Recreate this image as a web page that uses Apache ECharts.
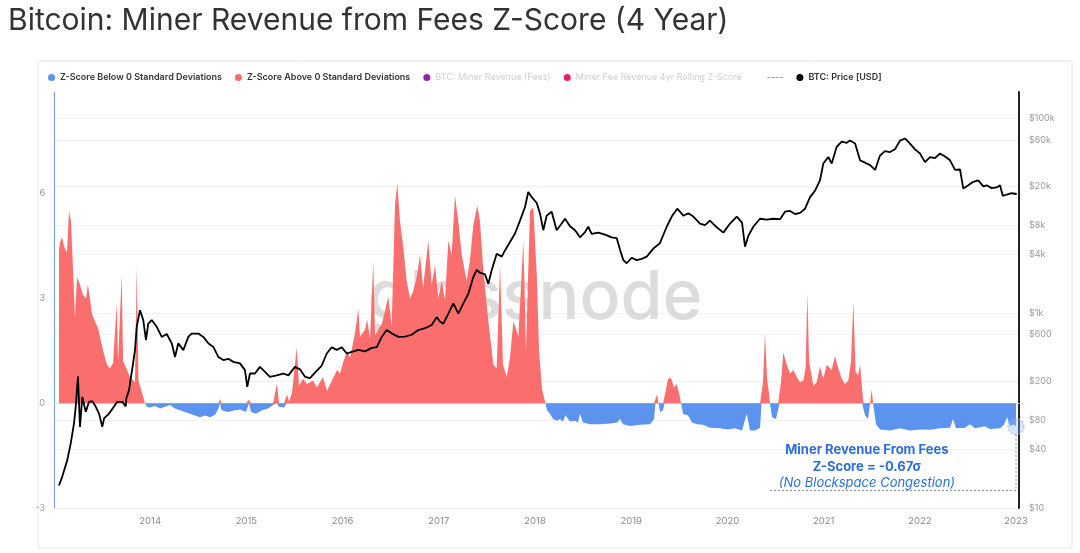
<!DOCTYPE html>
<html>
<head>
<meta charset="utf-8">
<script src="https://cdn.jsdelivr.net/npm/echarts@6/dist/echarts.min.js"></script>
<style>
html,body{margin:0;padding:0;background:#fff;}
#main{width:1080px;height:553px;}
</style>
</head>
<body>
<div id="main"></div>
<script>
// ---- Data (decimal year, value) ----
const zYears = [2013.052,2013.062,2013.083,2013.104,2013.135,2013.156,2013.177,2013.198,2013.218,2013.239,2013.270,2013.301,2013.333,2013.353,2013.395,2013.426,2013.457,2013.478,2013.510,2013.551,2013.582,2013.614,2013.652,2013.666,2013.704,2013.718,2013.759,2013.790,2013.842,2013.860,2013.878,2013.915,2013.946,2013.967,2013.998,2014.050,2014.102,2014.154,2014.206,2014.258,2014.310,2014.362,2014.414,2014.466,2014.518,2014.570,2014.622,2014.674,2014.710,2014.726,2014.741,2014.809,2014.882,2014.933,2014.996,2015.027,2015.048,2015.100,2015.162,2015.225,2015.277,2015.318,2015.339,2015.391,2015.422,2015.443,2015.474,2015.523,2015.547,2015.588,2015.630,2015.692,2015.734,2015.796,2015.838,2015.890,2015.942,2015.973,2016.004,2016.046,2016.077,2016.129,2016.163,2016.181,2016.233,2016.254,2016.285,2016.319,2016.337,2016.371,2016.410,2016.441,2016.475,2016.510,2016.545,2016.569,2016.597,2016.631,2016.666,2016.701,2016.732,2016.770,2016.805,2016.836,2016.891,2016.926,2016.961,2016.995,2017.030,2017.064,2017.099,2017.134,2017.168,2017.203,2017.238,2017.290,2017.324,2017.359,2017.400,2017.428,2017.463,2017.515,2017.567,2017.602,2017.636,2017.667,2017.706,2017.740,2017.775,2017.827,2017.879,2017.906,2017.948,2017.982,2018.018,2018.042,2018.073,2018.109,2018.125,2018.156,2018.187,2018.229,2018.260,2018.291,2018.317,2018.364,2018.416,2018.447,2018.468,2018.499,2018.572,2018.676,2018.780,2018.853,2018.884,2018.915,2018.988,2019.092,2019.196,2019.237,2019.253,2019.269,2019.284,2019.300,2019.331,2019.347,2019.362,2019.383,2019.414,2019.445,2019.471,2019.497,2019.518,2019.539,2019.591,2019.632,2019.684,2019.746,2019.819,2019.923,2020.006,2020.079,2020.152,2020.201,2020.235,2020.287,2020.339,2020.355,2020.370,2020.391,2020.412,2020.432,2020.443,2020.464,2020.505,2020.526,2020.542,2020.557,2020.581,2020.617,2020.651,2020.685,2020.720,2020.755,2020.789,2020.812,2020.831,2020.849,2020.893,2020.928,2020.962,2020.997,2021.032,2021.084,2021.118,2021.153,2021.188,2021.222,2021.257,2021.285,2021.309,2021.332,2021.358,2021.379,2021.400,2021.415,2021.431,2021.462,2021.483,2021.500,2021.514,2021.529,2021.545,2021.586,2021.690,2021.794,2021.898,2022.002,2022.106,2022.210,2022.314,2022.345,2022.376,2022.470,2022.522,2022.574,2022.678,2022.730,2022.834,2022.875,2022.906,2022.938,2022.979,2023.000];
const zValues = [4.4,4.6,4.75,4.5,4.3,5.5,5.2,3.8,2.45,3.6,3.4,3.1,3.0,3.4,2.55,2.35,2.15,1.9,1.5,1.1,1.0,1.15,2.85,1.2,3.7,1.2,0.95,0.75,0.6,3.9,0.65,0.3,0,-0.1,-0.12,-0.08,-0.15,-0.1,-0.05,-0.15,-0.2,-0.25,-0.3,-0.35,-0.4,-0.35,-0.4,-0.33,-0.15,0.12,-0.2,-0.25,-0.2,-0.18,-0.25,0.1,-0.25,-0.3,-0.2,-0.15,-0.05,0.57,-0.1,-0.12,0.25,0.05,0.3,1.6,0.5,0.7,0.55,0.65,0.45,0.75,0.35,0.65,0.95,0.85,1.15,1.5,1.3,2.0,2.7,1.9,2.1,2.4,1.85,4.05,1.95,2.1,2.3,2.65,3.05,2.2,5.7,6.3,5.2,4.45,3.5,3.0,3.2,3.6,4.25,3.3,4.65,3.4,3.95,3.0,3.5,2.95,4.65,4.25,5.95,5.2,4.25,3.5,4.1,5.1,5.65,5.2,3.8,2.35,1.1,1.0,3.95,1.1,0.75,1.3,2.35,1.9,4.65,1.5,5.5,5.6,3.7,1.5,0.4,0,-0.2,-0.3,-0.45,-0.5,-0.45,-0.52,-0.35,-0.52,-0.5,-0.55,-0.3,-0.55,-0.6,-0.6,-0.58,-0.55,-0.45,-0.6,-0.65,-0.62,-0.6,-0.45,0,0.25,0,-0.25,-0.2,0,0.4,0.7,0.72,0.45,0.55,0.3,0,-0.3,-0.35,-0.55,-0.6,-0.62,-0.7,-0.72,-0.75,-0.72,-0.78,-0.3,-0.78,-0.78,-0.7,0,0.6,2.0,0.7,0.3,0,-0.4,-0.45,-0.2,0,0.6,1.45,1.1,0.85,0.95,0.75,0.6,0.65,1.0,3.15,1.2,0.5,0.6,1.05,0.7,1.1,0.95,1.35,1.0,0.7,0.55,0.65,1.2,2.9,0.9,0.8,1.1,0.4,0,-0.35,-0.45,0,0.4,0,-0.3,-0.6,-0.75,-0.78,-0.72,-0.78,-0.75,-0.76,-0.72,-0.7,-0.45,-0.72,-0.7,-0.6,-0.72,-0.66,-0.74,-0.72,-0.62,-0.4,-0.65,-0.6,-0.67];

const priceYears = [2013.052,2013.086,2013.138,2013.174,2013.208,2013.226,2013.249,2013.270,2013.294,2013.330,2013.364,2013.398,2013.433,2013.468,2013.502,2013.520,2013.572,2013.624,2013.658,2013.710,2013.745,2013.752,2013.780,2013.790,2013.821,2013.842,2013.860,2013.894,2013.928,2013.956,2013.980,2014.016,2014.068,2014.120,2014.172,2014.224,2014.258,2014.292,2014.344,2014.396,2014.431,2014.500,2014.552,2014.604,2014.656,2014.708,2014.760,2014.812,2014.864,2014.933,2014.985,2015.009,2015.037,2015.089,2015.141,2015.193,2015.245,2015.315,2015.384,2015.436,2015.505,2015.557,2015.609,2015.661,2015.713,2015.783,2015.835,2015.887,2015.939,2015.991,2016.043,2016.095,2016.163,2016.233,2016.303,2016.355,2016.407,2016.458,2016.510,2016.579,2016.649,2016.718,2016.787,2016.857,2016.926,2016.978,2017.012,2017.047,2017.099,2017.151,2017.203,2017.255,2017.307,2017.359,2017.394,2017.428,2017.480,2017.515,2017.550,2017.602,2017.654,2017.688,2017.740,2017.792,2017.844,2017.896,2017.930,2017.966,2018.018,2018.052,2018.086,2018.121,2018.173,2018.225,2018.277,2018.312,2018.364,2018.416,2018.468,2018.520,2018.554,2018.589,2018.658,2018.728,2018.797,2018.849,2018.884,2018.918,2018.953,2019.005,2019.057,2019.109,2019.161,2019.230,2019.297,2019.369,2019.421,2019.479,2019.542,2019.594,2019.646,2019.715,2019.767,2019.819,2019.889,2019.958,2020.027,2020.097,2020.152,2020.183,2020.217,2020.269,2020.339,2020.408,2020.477,2020.547,2020.599,2020.651,2020.703,2020.755,2020.807,2020.859,2020.911,2020.962,2020.997,2021.049,2021.084,2021.136,2021.188,2021.240,2021.275,2021.327,2021.379,2021.431,2021.483,2021.535,2021.586,2021.638,2021.690,2021.742,2021.794,2021.846,2021.898,2021.950,2022.002,2022.054,2022.106,2022.158,2022.210,2022.262,2022.314,2022.366,2022.418,2022.452,2022.504,2022.556,2022.608,2022.660,2022.695,2022.747,2022.799,2022.834,2022.862,2022.903,2022.955,2023.007];
const priceValues = [17,21,31,46,74,110,224,68,138,97,123,125,110,93,68,83,93,110,123,123,110,133,162,190,300,420,724,1070,850,528,780,850,724,570,610,490,355,490,417,570,617,617,570,490,450,355,330,340,316,305,260,175,240,240,281,250,222,230,240,230,281,265,222,215,245,290,385,447,420,447,385,400,420,405,440,447,570,670,620,570,575,600,670,700,755,910,820,780,990,1260,990,1260,1580,2350,2770,2600,2500,2000,2770,4070,3800,4400,5380,6560,8900,12300,17500,15500,13500,10500,7100,10000,11000,7100,8300,9300,7800,7100,6000,6800,7700,6500,6700,6400,6000,5900,4460,3500,3250,3700,3500,3600,3800,4600,5200,7700,9800,11800,10000,10600,9800,8300,8000,8900,7600,6700,8300,9800,8500,4800,6200,7700,9300,9100,9300,9200,11000,11200,10400,10700,11800,15500,18100,23000,34300,40000,34300,51000,57500,56000,59000,55000,37000,35000,33000,29500,41400,46000,45000,48000,59000,62000,55000,48000,43500,35500,40000,39000,43500,40500,37000,29500,29800,19000,20500,22300,23000,20000,20500,19200,19500,20500,16000,16500,17000,16700];

const yearTicks = [2014,2015,2016,2017,2018,2019,2020,2021,2022,2023];
const zTicks = [-3,0,3,6];
const priceTicks = [10,40,80,200,600,1000,4000,8000,20000,60000,100000];

const legendNames = ['Z-Score Below 0 Standard Deviations','Z-Score Above 0 Standard Deviations','BTC: Miner Revenue (Fees)','Miner Fee Revenue 4yr Rolling Z-Score','----','BTC: Price [USD]'];
const annotationLines = ['Miner Revenue From Fees','Z-Score = -0.67σ','(No Blockspace Congestion)'];

// ---- Build series data ----
const negData = zYears.map((y,i)=>[y, Math.min(zValues[i],0)]);
const posData = zYears.map((y,i)=>[y, Math.max(zValues[i],0)]);
const priceData = priceYears.map((y,i)=>[y, priceValues[i]]);

const BLUE = '#5b93ef', RED = '#fa6e6e';
const FONT = 'Inter, "Noto Sans", sans-serif';

const chart = echarts.init(document.getElementById('main'), null, {renderer:'canvas'});

function priceFmt(v){ return v>=1000 ? '$'+(v/1000)+'k' : '$'+v; }

const option = {
  animation:false,
  backgroundColor:'#fff',
  textStyle:{fontFamily:FONT},
  title:{
    text:'Bitcoin: Miner Revenue from Fees Z-Score (4 Year)',
    left:3, top:1,
    textStyle:{fontFamily:FONT,fontSize:30,fontWeight:400,color:'#333'}
  },
  legend:{
    left:43, top:68, itemWidth:7, itemHeight:7, itemGap:13,
    selectedMode:false,
    textStyle:{fontFamily:FONT,fontSize:9,fontWeight:600,color:'#333'},
    data:[
      {name:legendNames[0], icon:'circle'},
      {name:legendNames[1], icon:'circle'},
      {name:legendNames[2], icon:'circle', textStyle:{color:'#cfcfcf',fontWeight:400}},
      {name:legendNames[3], icon:'circle', textStyle:{color:'#cfcfcf',fontWeight:400}},
      {name:legendNames[4], icon:'none', textStyle:{color:'#777',fontWeight:400}},
      {name:legendNames[5], icon:'circle'}
    ]
  },
  grid:{left:54, right:61, top:92, bottom:45},
  xAxis:{
    type:'value', min:2013, max:2023.031, interval:1,
    axisLine:{show:true,lineStyle:{color:'#d6e2f0',width:1}},
    axisTick:{show:false},
    splitLine:{show:false},
    axisLabel:{customValues:yearTicks, color:'#888', fontSize:9.5, margin:8, fontFamily:FONT,
      formatter:function(v){return String(Math.round(v));}}
  },
  yAxis:[
    {
      type:'value', min:-3, max:8.91, position:'left',
      axisLine:{show:true,lineStyle:{color:'#7fa8d8',width:1.2}},
      axisTick:{show:false},
      splitLine:{show:false},
      axisLabel:{customValues:zTicks, color:'#999', fontSize:9, margin:9, fontFamily:FONT}
    },
    {
      type:'log', logBase:10, min:10, max:186000, position:'right',
      axisLine:{show:true,lineStyle:{color:'#222',width:2}},
      axisTick:{show:false, customValues:priceTicks},
      splitLine:{show:true,lineStyle:{color:'#f1f1f1',width:1}},
      axisLabel:{customValues:priceTicks, color:'#999', fontSize:9, margin:10, fontFamily:FONT, formatter:priceFmt}
    }
  ],
  series:[
    {name:legendNames[0], type:'line', data:negData, color:BLUE, showSymbol:false, symbol:'none',
     lineStyle:{width:0,opacity:0}, areaStyle:{color:BLUE,opacity:1}, z:2, silent:true},
    {name:legendNames[1], type:'line', data:posData, color:RED, showSymbol:false, symbol:'none',
     lineStyle:{width:0,opacity:0}, areaStyle:{color:RED,opacity:1}, z:2, silent:true},
    {name:legendNames[2], type:'line', data:[], color:'#8e24aa'},
    {name:legendNames[3], type:'line', data:[], color:'#e91e63'},
    {name:legendNames[4], type:'line', data:[], color:'#777'},
    {name:legendNames[5], type:'line', data:priceData, yAxisIndex:1, color:'#000', showSymbol:false, symbol:'none',
     lineStyle:{width:1.8,color:'#000'}, z:5, silent:true}
  ]
};
chart.setOption(option);

// ---- Annotation, anchored in data space ----
const last = zYears.length-1;
const P = (x,y)=>chart.convertToPixel({xAxisIndex:0,yAxisIndex:0},[x,y]);
const pEnd = P(zYears[last], zValues[last]);
const pBase = P(2020.443, -2.5);
const pText = P(2021.45, -1.35);
const pMark = P(2018.0, 3.0);
const ANN = '#2d6fd6';
chart.setOption({
  graphic:[
    {type:'text', x:pMark[0], y:pMark[1], z:1, silent:true,
     style:{text:'glassnode', fontFamily:FONT, fontSize:68, fontWeight:500, fill:'rgba(205,205,205,0.7)', align:'center', verticalAlign:'middle'}},
    {type:'rect', shape:{x:38,y:61,width:1034,height:487}, style:{fill:'none',stroke:'#e6e6e6',lineWidth:1}, z:0, silent:true},
    {type:'circle', shape:{cx:pEnd[0], cy:pEnd[1], r:8}, style:{fill:'rgba(140,180,245,0.35)', stroke:'#8fb0e0', lineWidth:1, lineDash:[2,2]}, z:10},
    {type:'line', shape:{x1:pEnd[0], y1:pEnd[1]+8, x2:pEnd[0], y2:pBase[1]}, style:{stroke:'#7a8fb0', lineWidth:1, lineDash:[2,2]}, z:10},
    {type:'line', shape:{x1:pBase[0], y1:pBase[1], x2:pEnd[0], y2:pBase[1]}, style:{stroke:'#7a8fb0', lineWidth:1, lineDash:[2,2]}, z:10},
    {type:'text', x:pText[0], y:pText[1], z:10, style:{text:annotationLines[0], fontFamily:FONT, fontSize:13, fontWeight:700, fill:ANN, align:'center', verticalAlign:'middle'}},
    {type:'text', x:pText[0], y:pText[1]+16.5, z:10, style:{text:annotationLines[1], fontFamily:FONT, fontSize:13, fontWeight:700, fill:ANN, align:'center', verticalAlign:'middle'}},
    {type:'text', x:pText[0], y:pText[1]+33, z:10, style:{text:annotationLines[2], fontFamily:FONT, fontSize:13, fontStyle:'italic', fontWeight:400, fill:ANN, align:'center', verticalAlign:'middle'}}
  ]
});
</script>
</body>
</html>
